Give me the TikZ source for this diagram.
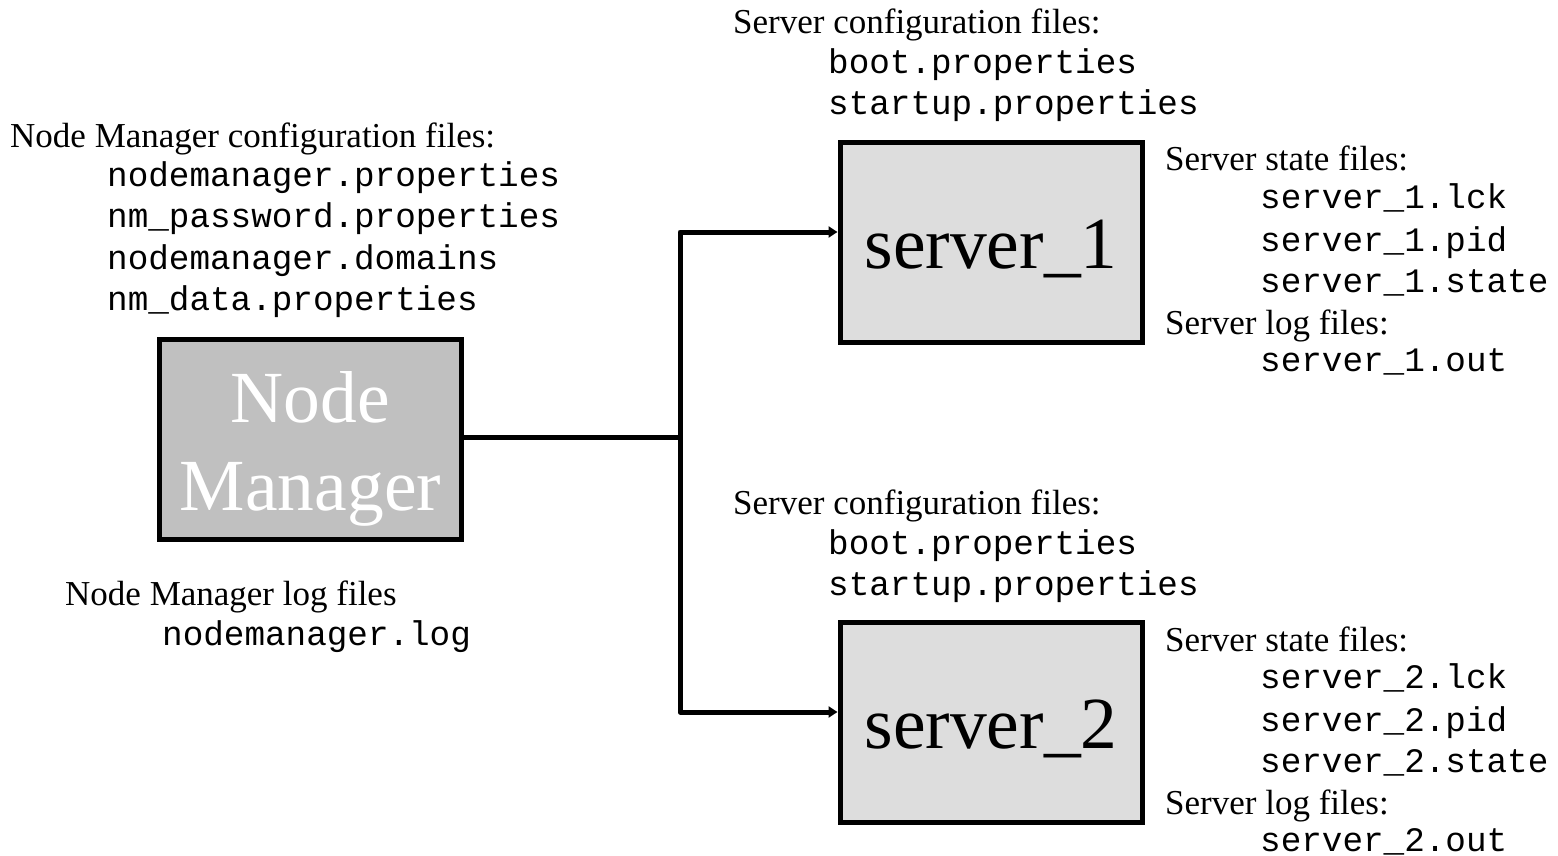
\documentclass[tikz,border=0pt]{standalone}
\usepackage{fontspec}
\setmainfont{Liberation Serif}
\setmonofont{Liberation Mono}
\usetikzlibrary{arrows.meta}

\begin{document}
\begin{tikzpicture}[x=1pt, y=-1pt,
	heading/.style={anchor=base west, inner sep=0pt, font=\fontsize{35}{42}\selectfont},
	filename/.style={anchor=base west, inner sep=0pt, font=\fontsize{34.3}{41}\selectfont\ttfamily},
	bigbox/.style={draw, line width=5pt, minimum width=302pt, minimum height=200pt, inner sep=0pt, align=center, font=\fontsize{73.5}{88}\selectfont},
	conn/.style={line width=5pt, line join=round}]
	\definecolor{nmgray}{HTML}{C0C0C0}
	\definecolor{srvgray}{HTML}{DDDDDD}
	\useasboundingbox (0,0) rectangle (1558,856);

	\begin{scope}
		\node[bigbox, fill=nmgray, text=white, text height=157pt, text depth=16pt] (nm) at (310.5,439.5) {Node\\Manager};
		\node[bigbox, fill=srvgray, text height=64pt, text depth=13pt] (srvA) at (991,242.5) {server\_1};
		\node[bigbox, fill=srvgray, text height=64pt, text depth=13pt] (srvB) at (991,722.5) {server\_2};
	\end{scope}

	\begin{scope}[conn]
		\coordinate (fork) at (680,437);
		\draw (nm.east |- fork) -- (fork);
		\draw[-{Triangle[length=9pt, width=11pt]}] (fork) |- ([yshift=10.5pt]srvA.west);
		\draw[-{Triangle[length=9pt, width=11pt]}] (fork) |- ([yshift=10.5pt]srvB.west);
	\end{scope}

	\begin{scope}
		\node[heading] (nmcfg) at (10,147) {Node Manager configuration files:};
		\foreach \f [count=\i] in {nodemanager.properties, nm\_password.properties, nodemanager.domains, nm\_data.properties}
		{
			\node[filename] (nmcfg\i) at (107,144.5+41.5*\i) {\f};
		}
		\node[heading] (nmlog) at (65,605) {Node Manager log files};
		\node[filename] (nmlog1) at (162,645) {nodemanager.log};
	\end{scope}

	\foreach \n/\y in {1/0, 2/480}
	{
		\begin{scope}[yshift=-\y pt]
			\node[heading] (cfg\n) at (733,34) {Server configuration files:};
			\node[filename] (cfg\n a) at (828,74) {boot.properties};
			\node[filename] (cfg\n b) at (828,115) {startup.properties};
			\node[heading] (state\n) at (1165,171) {Server state files:};
			\node[filename] (state\n a) at (1260,208) {server\_\n.lck};
			\node[filename] (state\n b) at (1260,251) {server\_\n.pid};
			\node[filename] (state\n c) at (1260,292) {server\_\n.state};
			\node[heading] (log\n) at (1165,334) {Server log files:};
			\node[filename] (log\n a) at (1260,371) {server\_\n.out};
		\end{scope}
	}
\end{tikzpicture}
\end{document}
